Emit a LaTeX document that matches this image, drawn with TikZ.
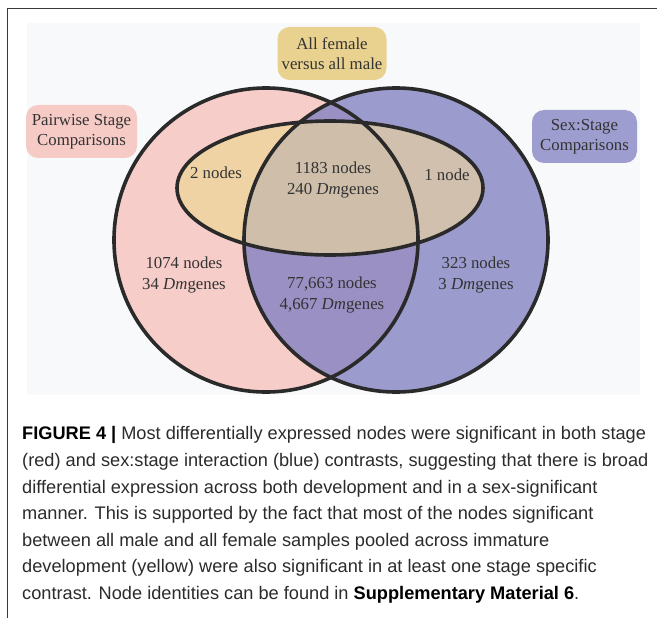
\documentclass[tikz,border=0pt]{standalone}
\usepackage{fontspec}
\setmainfont{Liberation Serif}
\newfontfamily\capfont{Liberation Sans}
\definecolor{pinkc}{HTML}{F6CDC8}
\definecolor{bluec}{HTML}{9B9BCE}
\definecolor{lensc}{HTML}{9A90C3}
\definecolor{yelc}{HTML}{EFD3A5}
\definecolor{yelbluec}{HTML}{D0C0AD}
\definecolor{centc}{HTML}{CEBEAA}
\definecolor{topc}{HTML}{E9D18F}
\definecolor{pinkboxc}{HTML}{F6CBC6}
\definecolor{blueboxc}{HTML}{9E9DD0}
\definecolor{panelc}{HTML}{F8F9FB}
\definecolor{ringgray}{HTML}{2A2A2A}
\definecolor{labelgray}{HTML}{333333}
\definecolor{capgray}{HTML}{2B2B2B}
\definecolor{framec}{HTML}{3A3A3A}
\tikzset{
  lbl/.style={font=\fontsize{16.8}{20.5}\selectfont, text=labelgray, align=center, inner sep=0pt},
  tagbox/.style={lbl, rounded corners=12pt, minimum height=53pt},
  capline/.style={anchor=base west, inner sep=0pt, font=\capfont\fontsize{18.2}{22}\selectfont, text=capgray},
  ring/.style={draw=ringgray, line width=3.6pt}
}
\begin{document}
\begin{tikzpicture}[x=1pt,y=-1pt]
\useasboundingbox (0,0) rectangle (657,618);
% frame
\coordinate (fb) at (7.5,618);
\coordinate (fc) at (7.5,8.5);
\coordinate (fr) at (657,8.5);
\draw[framec, line width=1.5pt] (fb) -- (fc) -- (fr);
% panel
\fill[panelc] (27,23) rectangle (640,395);
% centres
\coordinate (cL) at (266,240);
\coordinate (cR) at (396,240);
\coordinate (cE) at (330,188);
% fills
\fill[pinkc] (cL) circle[radius=152];
\fill[bluec] (cR) circle[radius=152];
\begin{scope}
  \clip (cL) circle[radius=152];
  \fill[lensc] (cR) circle[radius=152];
\end{scope}
\fill[yelc] (cE) ellipse[x radius=153, y radius=67];
\begin{scope}
  \clip (cE) ellipse[x radius=153, y radius=67];
  \fill[yelbluec] (cR) circle[radius=152];
  \clip (cL) circle[radius=152];
  \fill[centc] (cR) circle[radius=152];
\end{scope}
% outlines
\draw[ring] (cL) circle[radius=152];
\draw[ring] (cR) circle[radius=152];
\draw[ring] (cE) ellipse[x radius=153, y radius=67];
% region labels
\node[lbl] (n2) at (216,173) {2 nodes};
\node[lbl] (n1183) at (333,180) {1183 nodes\\240 \textit{Dm}genes};
\node[lbl] (n1) at (447,175) {1 node};
\node[lbl] (n1074) at (184,275) {1074 nodes\\34 \textit{Dm}genes};
\node[lbl] (n77) at (332,295) {77,663 nodes\\4,667 \textit{Dm}genes};
\node[lbl] (n323) at (476,275) {323 nodes\\3 \textit{Dm}genes};
% tag boxes
\node[tagbox, fill=topc, minimum width=109pt] (tF) at (332,53.5) {All female\\versus all male};
\node[tagbox, fill=pinkboxc, minimum width=111pt] (tP) at (81.5,131.5) {Pairwise Stage\\Comparisons};
\node[tagbox, fill=blueboxc, minimum width=105pt] (tS) at (584.5,136.5) {Sex:Stage\\Comparisons};
% caption
\node[capline] (c1) at (22,439) {\textbf{\color{black}FIGURE 4 |} Most differentially expressed nodes were significant in both stage};
\node[capline] (c2) at (22,466) {(red) and sex:stage interaction (blue) contrasts, suggesting that there is broad};
\node[capline] (c3) at (22,493) {differential expression across both development and in a sex-significant};
\node[capline] (c4) at (22,519) {manner. This is supported by the fact that most of the nodes significant};
\node[capline] (c5) at (22,546) {between all male and all female samples pooled across immature};
\node[capline] (c6) at (22,572) {development (yellow) were also significant in at least one stage specific};
\node[capline] (c7) at (22,599) {contrast. Node identities can be found in \textbf{\color{black}Supplementary Material 6}.};
\end{tikzpicture}
\end{document}
